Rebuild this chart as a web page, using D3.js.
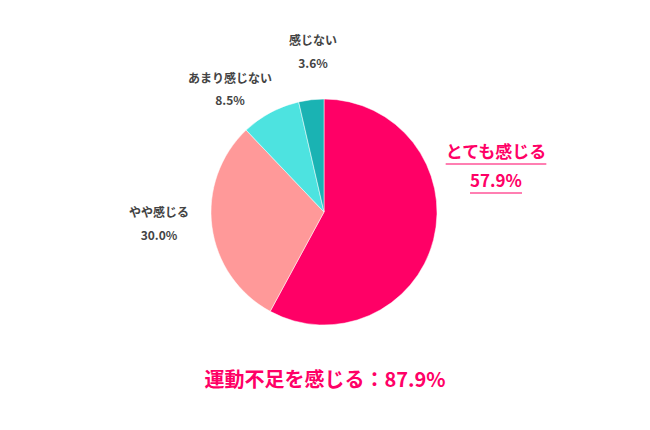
<!DOCTYPE html><html><head><meta charset="utf-8"><script src="https://cdn.jsdelivr.net/npm/d3@7"></script>
<style>body{margin:0;background:#fff}text{font-family:"Noto Sans CJK JP",sans-serif;font-weight:bold}</style></head><body><svg width="650" height="430"></svg><script>
const categories=["とても感じる","やや感じる","あまり感じない","感じない"];
const values=[57.9,30.0,8.5,3.6];
const colors=["#FF0066","#FF9999","#4DE3E0","#1AB3B3"];
const labelPos=[[496,158,187],[159,217,240],[230,83,105],[313,45,68]];
const svg=d3.select("svg");
const cx=324,cy=212,r=113;
const pie=d3.pie().sort(null)(values);
const arc=d3.arc().innerRadius(0).outerRadius(r);
svg.append("g").attr("transform",`translate(${cx},${cy})`).selectAll("path").data(pie).join("path")
 .attr("d",arc).attr("fill",(d,i)=>colors[i]).attr("stroke","#fff").attr("stroke-width",0.5);
categories.forEach((c,i)=>{
 const [x,y1,y2]=labelPos[i];const main=i===0;
 const g=svg.append("g");
 const t1=g.append("text").attr("x",x).attr("y",y1).attr("text-anchor","middle").attr("font-size",main?17:12).attr("fill",main?"#FF0066":"#444").text(c);
 const t2=g.append("text").attr("x",x).attr("y",y2).attr("text-anchor","middle").attr("font-size",main?17:12).attr("fill",main?"#FF0066":"#444").text(values[i].toFixed(1)+"%");
 if(main){[t1,t2].forEach((t,k)=>{const b=t.node().getBBox();g.append("line").attr("x1",b.x).attr("x2",b.x+b.width).attr("y1",(k?y2:y1)+6).attr("y2",(k?y2:y1)+6).attr("stroke","#FF0066").attr("stroke-width",1.2);});}
});
svg.append("text").attr("x",325).attr("y",387).attr("text-anchor","middle").attr("font-size",20).attr("fill","#FF0066").text("運動不足を感じる：87.9%");
</script></body></html>
